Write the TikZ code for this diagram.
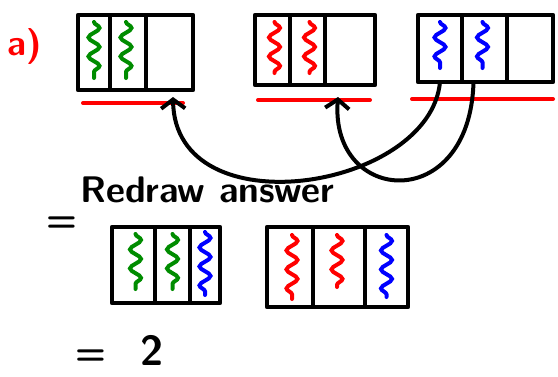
\documentclass[tikz,border=0pt]{standalone}
\usepackage{tikz}
\usetikzlibrary{positioning,arrows.meta,decorations.pathmorphing}
\definecolor{pengreen}{RGB}{0,140,0}
\definecolor{penred}{RGB}{255,0,0}
\definecolor{penblue}{RGB}{0,0,255}
\tikzset{
>={Straight Barb[length=9pt,width=24pt]},
  mycell/.style={
    rectangle,
    draw=black, line width=4.5pt,
    line join=round,
    inner sep=0pt, outer sep=0pt},
  wiggle/.style={line width=4pt, line cap=round, decorate,
    decoration={snake, amplitude=5.5pt, segment length=19pt}},
  underline/.style={draw=penred, line width=4pt, line cap=round},
  handtext/.style={font=\sffamily\bfseries, inner sep=0pt},
}

\begin{document}
\begin{tikzpicture}[x=1pt, y=-1pt]
    \tikzset{
        myarrow/.style={draw, line width=4pt, line cap=round, ->},
    }
    \useasboundingbox (0,0) rectangle (558,376);

    % label
    \node[handtext, text=penred, font=\sffamily\bfseries\fontsize{36}{36}\selectfont] (part) at (25,46) {a)};

    % first row
    \node[mycell, minimum width=32pt, minimum height=75pt, anchor=north west] (cell11) at (78,15) {};
    \node[mycell, minimum width=36pt, minimum height=75pt, right=0pt of cell11] (cell12) {};
    \node[mycell, minimum width=47pt, minimum height=75pt, right=0pt of cell12] (cell13) {};

    \node[mycell, minimum width=35pt, minimum height=70pt, anchor=north west] (cell21) at (255,15) {};
    \node[mycell, minimum width=35pt, minimum height=70pt, right=0pt of cell21] (cell22) {};
    \node[mycell, minimum width=50pt, minimum height=70pt, right=0pt of cell22] (cell23) {};

    \node[mycell, minimum width=44pt, minimum height=67pt, anchor=north west] (cell31) at (418,15) {};
    \node[mycell, minimum width=45pt, minimum height=67pt, right=0pt of cell31] (cell32) {};
    \node[mycell, minimum width=46pt, minimum height=67pt, right=0pt of cell32] (cell33) {};

    \draw[wiggle, pengreen] ([yshift=-7pt]cell11.north) -- ([yshift=12pt]cell11.south);
    \draw[wiggle, pengreen] ([yshift=-7pt,xshift=-2pt]cell12.north) -- ([yshift=12pt,xshift=-2pt]cell12.south);
    \draw[wiggle, penred] ([yshift=-7pt,xshift=2pt]cell21.north) -- ([yshift=12pt,xshift=2pt]cell21.south);
    \draw[wiggle, penred] ([yshift=-7pt,xshift=2pt]cell22.north) -- ([yshift=12pt,xshift=2pt]cell22.south);
    \draw[wiggle, penblue] ([yshift=-7pt]cell31.north) -- ([yshift=14pt]cell31.south);
    \draw[wiggle, penblue] ([yshift=-7pt,xshift=-2pt]cell32.north) -- ([yshift=14pt,xshift=-2pt]cell32.south);

    \draw[underline] ([xshift=5pt,yshift=-13pt]cell11.south west) -- ([xshift=-10pt,yshift=-13pt]cell13.south east);
    \draw[underline] ([xshift=3pt,yshift=-15pt]cell21.south west) -- ([xshift=-5pt,yshift=-15pt]cell23.south east);
    \draw[underline] ([xshift=-6pt,yshift=-17pt]cell31.south west) -- ([xshift=0pt,yshift=-17pt]cell33.south east);

    % moves
    \coordinate (tip1) at (173,97);
    \coordinate (tip2) at (338,97);
    \draw[myarrow] (cell31.south) .. controls (430,190) and (175,230) .. (tip1);
    \draw[myarrow] ([xshift=-11pt]cell32.south) .. controls (470,215) and (330,205) .. (tip2);

    % answer
    \node[handtext, anchor=west, font=\sffamily\bfseries\fontsize{37}{37}\selectfont] (redraw) at (80,190) {Redraw answer};
    \node[handtext, font=\sffamily\bfseries\fontsize{36}{36}\selectfont] (eq1) at (62,224) {=};

    \node[mycell, minimum width=43pt, minimum height=76pt, anchor=north west] (cell41) at (112,227) {};
    \node[mycell, minimum width=35pt, minimum height=76pt, right=0pt of cell41] (cell42) {};
    \node[mycell, minimum width=30pt, minimum height=76pt, right=0pt of cell42] (cell43) {};

    \node[mycell, minimum width=46pt, minimum height=80pt, anchor=north west] (cell51) at (267,227) {};
    \node[mycell, minimum width=52pt, minimum height=80pt, right=0pt of cell51] (cell52) {};
    \node[mycell, minimum width=43pt, minimum height=80pt, right=0pt of cell52] (cell53) {};

    \draw[wiggle, pengreen] ([yshift=-7pt,xshift=2pt]cell41.north) -- ([yshift=14pt,xshift=2pt]cell41.south);
    \draw[wiggle, pengreen] ([yshift=-7pt]cell42.north) -- ([yshift=14pt]cell42.south);
    \draw[wiggle, penblue] ([yshift=-5pt]cell43.north) -- ([yshift=8pt]cell43.south);
    \draw[wiggle, penred] ([yshift=-8pt,xshift=2pt]cell51.north) -- ([yshift=8pt,xshift=2pt]cell51.south);
    \draw[wiggle, penred] ([yshift=-8pt,xshift=-2pt]cell52.north) -- ([yshift=20pt,xshift=-2pt]cell52.south);
    \draw[wiggle, penblue] ([yshift=-8pt]cell53.north) -- ([yshift=10pt]cell53.south);

    \node[handtext, font=\sffamily\bfseries\fontsize{36}{36}\selectfont] (eq2) at (91,357) {=};
    \node[handtext, font=\sffamily\bfseries\fontsize{42}{42}\selectfont] (two) at (152,350) {2};
\end{tikzpicture}
\end{document}
